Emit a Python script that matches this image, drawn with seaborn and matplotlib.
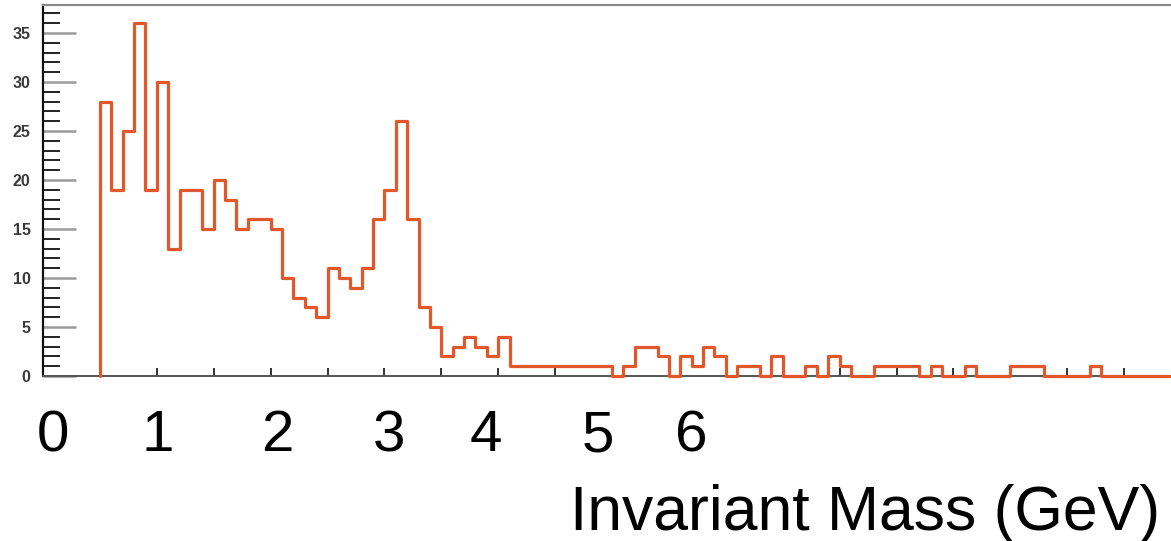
import numpy as np
import pandas as pd
import matplotlib
matplotlib.use("Agg")
import matplotlib.pyplot as plt
import seaborn as sns
from matplotlib.ticker import MultipleLocator, FixedLocator

# ---------------- data ----------------
first_edge = 0.5      # GeV, low edge of first filled bin
bin_width = 0.1       # GeV
counts = [
    28, 19, 25, 36, 19, 30, 13, 19, 19, 15,   # 0.5 - 1.4
    20, 18, 15, 16, 16, 15, 10, 8, 7, 6,      # 1.5 - 2.4
    11, 10, 9, 11, 16, 19, 26, 16, 7, 5,      # 2.5 - 3.4
    2, 3, 4, 3, 2, 4, 1, 1, 1, 1,             # 3.5 - 4.4
    1, 1, 1, 1, 1, 0, 1, 3, 3, 2,             # 4.5 - 5.4
    0, 2, 1, 3, 2, 0, 1, 1, 0, 2,             # 5.5 - 6.4
    0, 0, 1, 0, 2, 1, 0, 0, 1, 1,             # 6.5 - 7.4
    1, 1, 0, 1, 0, 0, 1, 0, 0, 0,             # 7.5 - 8.4
    1, 1, 1, 0, 0, 0, 0, 1, 0, 0,             # 8.5 - 9.4
    0, 0, 0, 0,                               # 9.5 - 9.8
]
x_tick_labels = ["0", "1", "2", "3", "4", "5", "6"]
y_tick_values = [0, 5, 10, 15, 20, 25, 30, 35]
x_title = "Invariant Mass (GeV)"

edges = first_edge + bin_width * np.arange(len(counts) + 1)
df = pd.DataFrame({"mass": edges, "count": np.r_[0, counts]})

# ---------------- figure ----------------
sns.set_style("white")
plt.rcParams["font.family"] = ["Liberation Sans", "DejaVu Sans"]

W, H = 1171, 541
fig = plt.figure(figsize=(W / 100, H / 100), dpi=100)
ax_left, ax_right, ax_top, ax_bottom = 43, 1171, 5, 376
ax = fig.add_axes([ax_left / W, 1 - ax_bottom / H,
                   (ax_right - ax_left) / W, (ax_bottom - ax_top) / H])

line_color = "#e4572a"
sns.lineplot(data=df, x="mass", y="count", drawstyle="steps-pre",
             color=line_color, linewidth=2.3, estimator=None, sort=False,
             ax=ax, zorder=4, clip_on=False)

px_per_gev = 113.8
ax.set_xlim(0, (ax_right - ax_left) / px_per_gev)
ax.set_ylim(0, (ax_bottom - ax_top) / 9.8)

# spines
ax.spines["right"].set_visible(False)
ax.spines["top"].set_color("#8a8a8a")
ax.spines["top"].set_linewidth(1.6)
ax.spines["left"].set_color("#111111")
ax.spines["left"].set_linewidth(1.6)
ax.spines["bottom"].set_color("#555555")
ax.spines["bottom"].set_linewidth(1.4)

# y ticks: long gray major every 5, short black minor every 1
ax.set_yticks(y_tick_values)
ax.set_yticklabels([str(v) for v in y_tick_values], fontsize=11.5,
                   fontweight="bold", color="#3a3a3a")
ax.yaxis.set_minor_locator(MultipleLocator(1))
ax.tick_params(axis="y", which="major", direction="in", length=24,
               width=1.8, color="#9a9a9a", pad=9, left=True)
ax.tick_params(axis="y", which="minor", direction="in", length=12,
               width=1.3, color="#111111", left=True)

# x ticks: small marks every 0.5 GeV, big hand-placed digits below
label_pos = [(c - ax_left) / px_per_gev for c in (53, 158, 277, 389, 486, 598, 691)]
ax.xaxis.set_major_locator(FixedLocator(label_pos))
ax.set_xticklabels(x_tick_labels, fontsize=42, color="black")
ax.tick_params(axis="x", which="major", length=0, pad=24, bottom=True)
ax.xaxis.set_minor_locator(MultipleLocator(0.5))
ax.tick_params(axis="x", which="minor", direction="in", length=6,
               width=1.3, color="#222222", bottom=True)

ax.set_ylabel("")
ax.set_xlabel(x_title, fontsize=45, ha="right", va="baseline", color="black")
ax.xaxis.set_label_coords((1160 - ax_left) / (ax_right - ax_left),
                          -(530 - ax_bottom) / (ax_bottom - ax_top))

fig.savefig("out.png", dpi=100)
